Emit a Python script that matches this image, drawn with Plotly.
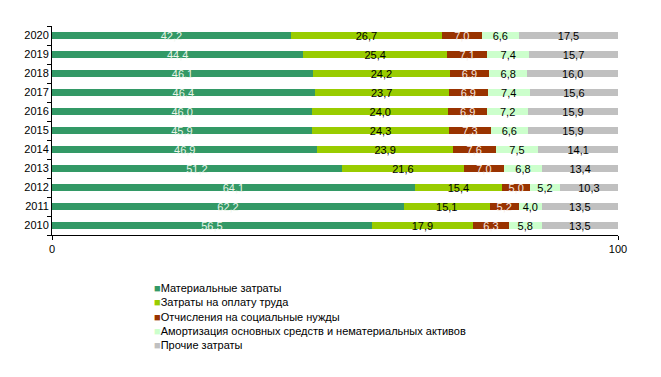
import plotly.graph_objects as go

years = ["2010", "2011", "2012", "2013", "2014", "2015", "2016", "2017", "2018", "2019", "2020"]
series_names = [
    "Материальные затраты",
    "Затраты на оплату труда",
    "Отчисления на социальные нужды",
    "Амортизация основных средств и нематериальных активов",
    "Прочие затраты",
]
material = [56.5, 62.2, 64.1, 51.2, 46.9, 45.9, 46.0, 46.4, 46.1, 44.4, 42.2]
labor = [17.9, 15.1, 15.4, 21.6, 23.9, 24.3, 24.0, 23.7, 24.2, 25.4, 26.7]
social = [6.3, 5.2, 5.0, 7.0, 7.6, 7.3, 6.9, 6.9, 6.9, 7.1, 7.0]
amort = [5.8, 4.0, 5.2, 6.8, 7.5, 6.6, 7.2, 7.4, 6.8, 7.4, 6.6]
other = [13.5, 13.5, 10.3, 13.4, 14.1, 15.9, 15.9, 15.6, 16.0, 15.7, 17.5]
x_ticks = [0, 100]

series_values = [material, labor, social, amort, other]
colors = ["#339966", "#99CC00", "#993300", "#CCFFCC", "#C0C0C0"]
text_colors = ["#E8F4E8", "#000000", "#F4E8E0", "#000000", "#000000"]

FONT = "Liberation Sans, Arial, sans-serif"

# the page body adds an 8px offset; figure coordinates are compensated for it
W, H = 653, 369
L, T, R, B = 44, 17.5, 43, 141.5
plot_h = H - T - B

fig = go.Figure()
for name, vals, col, tcol in zip(series_names, series_values, colors, text_colors):
    fig.add_trace(go.Bar(
        y=years, x=vals, name=name, orientation="h",
        marker=dict(color=col, line=dict(width=0)),
        text=[f"{v:.1f}".replace(".", ",") for v in vals],
        textposition="inside", insidetextanchor="middle",
        textfont=dict(color=tcol, size=11, family=FONT),
        textangle=0,
        showlegend=False,
    ))

# manual legend as one multi-line text block (compact spacing as in the original)
legend_text = "<br>".join(
    f"<span style='color:{col}'>■</span>{name}" for name, col in zip(series_names, colors)
)
x0 = (145 - L) / (W - L - R)
yc = ((H - B) - 309.2) / plot_h
fig.add_annotation(
    xref="paper", yref="paper", x=x0, y=yc, xanchor="left", yanchor="middle",
    showarrow=False, align="left", borderpad=0,
    text=legend_text,
    font=dict(size=11, family=FONT, color="#000000"),
)

axis_common = dict(showgrid=False, zeroline=False, showline=True, linecolor="#000000",
                   linewidth=1, ticks="outside", ticklen=4, tickcolor="#000000",
                   tickfont=dict(size=11, family=FONT, color="#000000"))

fig.update_layout(
    width=W, height=H,
    margin=dict(l=L, r=R, t=T, b=B),
    barmode="stack", bargap=0.58,
    plot_bgcolor="white", paper_bgcolor="white",
    font=dict(family=FONT, size=11, color="#000000"),
    uniformtext=dict(minsize=11, mode="show"),
    xaxis=dict(range=[0, 100], tickvals=x_ticks, ticktext=[str(t) for t in x_ticks],
               **axis_common),
    yaxis=dict(type="category", categoryorder="array", categoryarray=years,
               tickson="boundaries", **axis_common),
)

fig.write_html("out.html")
